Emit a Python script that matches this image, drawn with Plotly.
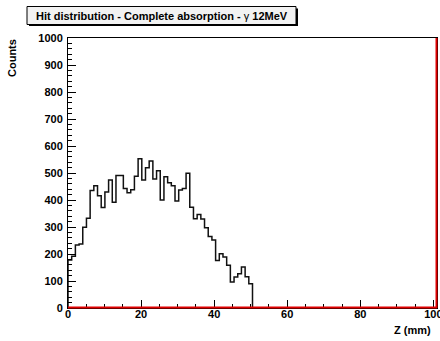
import plotly.graph_objects as go

# ---- data ----
counts = [178, 192, 233, 237, 299, 332, 435, 453, 416, 372,
          430, 474, 392, 491, 491, 443, 427, 438, 488, 553,
          474, 519, 544, 478, 508, 400, 486, 464, 453, 396,
          437, 443, 499, 373, 331, 346, 330, 297, 265, 252,
          176, 201, 189, 158, 96, 115, 127, 152, 116, 90]
z_min = 0.0
z_max = 101.0
n_bins = 100
y_max = 1000
x_tick_vals = [0, 20, 40, 60, 80, 100]
y_tick_vals = [0, 100, 200, 300, 400, 500, 600, 700, 800, 900, 1000]
title_text = "Hit distribution - Complete absorption - γ 12MeV"

bw = (z_max - z_min) / n_bins
edges = [z_min + i * bw for i in range(len(counts) + 1)]

# step outline (ROOT HIST style)
xs = [edges[0]] + edges[:-1] + [edges[-1], edges[-1]]
ys = [0] + counts + [counts[-1], 0]

W, H = 440, 341
L, R, T, B = 68, 437, 38, 308


def px(x):
    return (x - L) / (R - L)


def py(y):
    return (B - y) / (B - T)


FONT = "Liberation Sans, Arial, Helvetica, sans-serif"

fig = go.Figure()
fig.add_trace(go.Scatter(x=xs, y=ys, mode="lines", line=dict(color="#111111", width=1.5, shape="hv"),
                         hoverinfo="skip", showlegend=False))

fig.update_layout(
    width=W, height=H,
    margin=dict(l=L, r=W - R, t=T, b=H - B, autoexpand=False),
    paper_bgcolor="white", plot_bgcolor="white",
    showlegend=False,
    font=dict(family=FONT, size=11, color="black"),
)

fig.update_xaxes(
    range=[z_min, z_max], showgrid=False, zeroline=False, automargin=False,
    showline=True, linecolor="black", linewidth=1, mirror=True,
    ticks="inside", ticklen=8, tickwidth=1, tickcolor="black",
    tickvals=x_tick_vals, ticktext=["<b>%d</b>" % v for v in x_tick_vals],
    minor=dict(ticks="inside", ticklen=4, dtick=5, tick0=0, tickcolor="black", showgrid=False),
    tickfont=dict(family=FONT, size=11, color="black"),
    ticklabelstandoff=-4, ticklabeloverflow="allow",
)
fig.update_yaxes(
    range=[0, y_max], showgrid=False, zeroline=False, automargin=False,
    showline=True, linecolor="black", linewidth=1, mirror=True,
    ticks="inside", ticklen=8, tickwidth=1, tickcolor="black",
    tickvals=y_tick_vals, ticktext=["<b>%d</b>" % v for v in y_tick_vals],
    minor=dict(ticks="inside", ticklen=4, dtick=20, tick0=0, tickcolor="black", showgrid=False),
    tickfont=dict(family=FONT, size=11, color="black"),
    ticklabelstandoff=2, ticklabeloverflow="allow",
)

shapes = []
# red baseline and right edge
shapes.append(dict(type="line", xref="paper", yref="paper", x0=0, x1=1, y0=py(B - 0.5), y1=py(B - 0.5),
                   line=dict(color="#e00000", width=2), layer="above"))
shapes.append(dict(type="line", xref="paper", yref="paper", x0=px(R - 0.5), x1=px(R - 0.5), y0=0, y1=1,
                   line=dict(color="#e00000", width=2), layer="above"))
# title box with shadow
shapes.append(dict(type="rect", xref="paper", yref="paper",
                   x0=px(29), x1=px(298), y0=py(26), y1=py(8.5),
                   fillcolor="black", line=dict(width=0), layer="above"))
shapes.append(dict(type="rect", xref="paper", yref="paper",
                   x0=px(27), x1=px(296), y0=py(24.5), y1=py(6.5),
                   fillcolor="#f2f2f2", line=dict(color="black", width=1), layer="above"))
fig.update_layout(shapes=shapes)

annotations = [
    dict(text="<b>Hit distribution - Complete absorption - </b>γ<b> 12MeV</b>",
         xref="paper", yref="paper", x=px(161.5), y=py(15.5), xanchor="center", yanchor="middle",
         showarrow=False, font=dict(family=FONT, size=11, color="black")),
    dict(text="<b>Counts</b>", xref="paper", yref="paper", x=px(12), y=py(37),
         xanchor="center", yanchor="top", textangle=-90, showarrow=False,
         font=dict(family=FONT, size=11, color="black")),
    dict(text="<b>Z (mm)</b>", xref="paper", yref="paper", x=px(433), y=py(329.5),
         xanchor="right", yanchor="middle", showarrow=False,
         font=dict(family=FONT, size=11, color="black")),
]
fig.update_layout(annotations=annotations)

fig.write_html("out.html")
